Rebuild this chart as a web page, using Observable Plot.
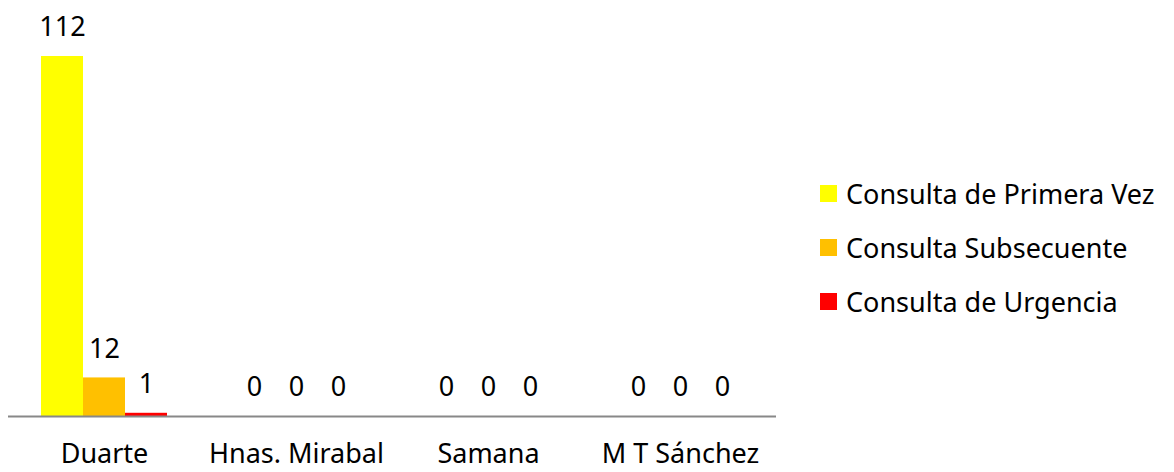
<!DOCTYPE html>
<html>
<head>
<meta charset="utf-8">
<script src="https://cdn.jsdelivr.net/npm/d3@7"></script>
<script src="https://cdn.jsdelivr.net/npm/@observablehq/plot@0.6"></script>
<style>
  html, body { margin: 0; padding: 0; background: #fff; }
  #wrap { position: relative; width: 1174px; height: 472px; font-family: "Noto Sans", sans-serif; }
  #legend { position: absolute; left: 820px; top: 0; }
  .item { position: absolute; left: 0; display: flex; align-items: center; white-space: nowrap; font-size: 27px; color: #000; height: 34px; }
  .sw { width: 17px; height: 17px; margin-right: 9px; }
</style>
</head>
<body>
<div id="wrap"><div id="legend"></div></div>
<script>
const categories = ["Duarte", "Hnas. Mirabal", "Samana", "M T Sánchez"];
const series = ["Consulta de Primera Vez", "Consulta Subsecuente", "Consulta de Urgencia"];
const primeraVez = [112, 0, 0, 0];
const subsecuente = [12, 0, 0, 0];
const urgencia = [1, 0, 0, 0];
const colors = ["#FFFF00", "#FFC000", "#FF0000"];

const seriesValues = [primeraVez, subsecuente, urgencia];
const data = categories.flatMap((c, i) => series.map((s, j) => ({cat: c, serie: s, value: seriesValues[j][i]})));

const chart = Plot.plot({
  width: 1174,
  height: 472,
  marginLeft: 7,
  marginRight: 397,
  marginTop: 56,
  marginBottom: 56,
  style: {fontFamily: "'Noto Sans', sans-serif", fontSize: "27px", color: "#000", background: "transparent"},
  fx: {domain: categories, padding: 0, label: null, axis: "bottom", tickSize: 0, tickPadding: 27},
  x: {domain: series, axis: null, paddingInner: 0, paddingOuter: 0.756},
  y: {domain: [0, 112], axis: null},
  color: {domain: series, range: colors},
  marks: [
    Plot.barY(data, {fx: "cat", x: "serie", y: "value", fill: "serie"}),
    Plot.ruleY([0], {stroke: "#888888", strokeWidth: 2}),
    Plot.text(data, {fx: "cat", x: "serie", y: "value", text: d => String(d.value), dy: -29, fontSize: 27, fill: "#000"})
  ]
});
document.getElementById("wrap").prepend(chart);

const legend = document.getElementById("legend");
const rowCenters = [193, 247, 301];
series.forEach((s, i) => {
  const item = document.createElement("div");
  item.className = "item";
  item.style.top = (rowCenters[i] - 17) + "px";
  const sw = document.createElement("div");
  sw.className = "sw";
  sw.style.background = colors[i];
  const t = document.createElement("span");
  t.textContent = s;
  item.appendChild(sw);
  item.appendChild(t);
  legend.appendChild(item);
});
</script>
</body>
</html>
